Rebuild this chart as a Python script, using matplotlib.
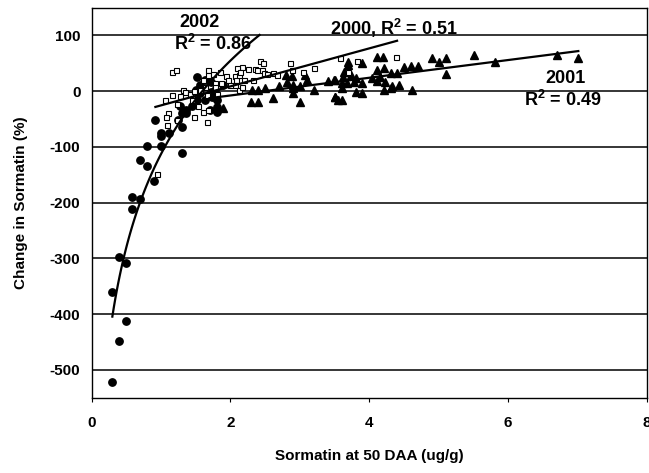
import matplotlib.pyplot as plt
import numpy as np

plt.rcParams['font.family'] = ['Liberation Sans', 'DejaVu Sans']
plt.rcParams['font.weight'] = 'bold'
plt.rcParams['axes.unicode_minus'] = False
plt.rcParams['mathtext.fontset'] = 'custom'
plt.rcParams['mathtext.bf'] = 'Liberation Sans:bold'
plt.rcParams['mathtext.rm'] = 'Liberation Sans:bold'
plt.rcParams['mathtext.default'] = 'bf'

# 2002 - filled circles
x2002 = [0.30, 0.30, 0.40, 0.40, 0.50, 0.50, 0.59, 0.59, 0.70, 0.70, 0.795, 0.90,
         1.30, 1.00, 0.80, 1.00, 1.00, 1.11, 0.91, 1.24, 1.30, 1.30, 1.36, 1.44,
         1.52, 1.51, 1.56, 1.64, 1.52, 1.72, 1.80, 1.80, 1.70, 1.64, 1.73, 1.80,
         1.72, 1.90, 1.56, 1.36, 1.27, 1.78]
y2002 = [-360, -521, -298, -448, -309, -413, -189, -211, -123, -193, -135, -162,
         -111, -99, -99, -81, -75, -75, -51, -51, -65, -40, -40, -27,
         -16, 3, 11, 20, 26, 17, -28, -37, -34, -16, -10, -15,
         -1, 11, -4, -33, -27, 3]

# 2000 - open squares
x2000 = [1.16, 1.22, 1.06, 1.16, 1.32, 1.34, 1.23, 1.44, 1.53, 1.47, 1.10, 1.07,
         1.08, 1.23, 0.94, 1.66, 1.61, 1.68, 1.68, 1.61, 1.75, 1.85, 1.94, 1.96,
         1.87, 1.78, 2.06, 2.08, 2.12, 2.16, 2.09, 2.14, 2.07, 2.00, 2.13, 2.16,
         2.26, 2.35, 2.43, 2.47, 2.38, 2.46, 2.33, 2.20, 2.48, 2.53, 2.62, 2.67,
         2.86, 2.88, 3.05, 3.21, 1.78, 1.80, 1.63, 1.56, 1.42, 1.27, 1.68, 1.66,
         1.47, 3.58, 3.83, 3.70, 4.38]
y2000 = [35, 38, -16, -7, 3, -1, -23, -15, -27, -46, -40, -46,
         -61, -52, -149, -55, -37, 38, 29, 20, 31, 35, 28, 20,
         14, 14, 28, 20, 29, 44, 41, 35, 11, 11, 2, 8,
         39, 39, 54, 51, 38, 38, 20, 20, 33, 31, 33, 29,
         50, 38, 35, 41, 8, -5, 7, 3, -5, -8, -34, -7,
         1, 59, 55, 34, 62]

# 2001 - filled triangles
x2001 = [1.90, 2.30, 2.40, 2.61, 3.00, 2.31, 2.40, 2.50, 2.70, 2.80, 2.88, 2.90,
         2.90, 2.90, 3.00, 3.08, 3.10, 3.20, 3.41, 3.50, 3.50, 3.55, 2.81, 3.49,
         3.51, 3.60, 3.60, 3.60, 3.63, 3.62, 3.70, 3.70, 3.73, 3.68, 3.78, 3.81,
         3.81, 3.90, 3.90, 3.90, 4.11, 4.20, 4.11, 4.21, 4.04, 4.16, 4.21, 4.32,
         4.31, 4.43, 4.31, 4.40, 4.50, 4.60, 4.70, 4.61, 4.90, 5.01, 5.11, 5.11,
         5.51, 5.81, 6.71, 7.01, 4.23, 4.11]
y2001 = [-31, -19, -19, -13, -19, 3, 3, 5, 9, 29, 27, 11,
         5, -4, 9, 29, 20, 3, 19, 20, -10, -16, 17, 20,
         -10, -16, 5, 15, 35, 26, 53, 47, 29, 14, 17, 23,
         -1, -3, 14, 50, 61, 61, 38, 41, 24, 25, 2, 10,
         5, 11, 32, 33, 44, 46, 46, 3, 59, 53, 59, 31,
         65, 53, 65, 59, 16, 19]

# trendlines: (slope, intercept, x start, x end)
fit2002 = (242.0, -113.0, 0.30, 2.42)   # logarithmic
fit2000 = (34.1, -59.6, 0.92, 4.40)     # linear
fit2001 = (15.9, -39.5, 1.70, 7.01)     # linear

fig = plt.figure(figsize=(6.49, 4.73), dpi=100)
ax = fig.add_axes([0.141, 0.159, 0.856, 0.825])

ax.plot(x2002, y2002, 'o', color='black', markersize=5.3, linestyle='none', zorder=3)
ax.plot(x2001, y2001, '^', color='black', markersize=5.3, linestyle='none', zorder=3)
ax.plot(x2000, y2000, 's', markerfacecolor='white', markeredgecolor='black',
        markeredgewidth=0.8, markersize=3.6, linestyle='none', zorder=4)

a, b, x0, x1 = fit2002
xs = np.linspace(x0, x1, 100)
ax.plot(xs, a * np.log(xs) + b, color='black', lw=1.6, zorder=5)
for a, b, x0, x1 in (fit2000, fit2001):
    xs = np.array([x0, x1])
    ax.plot(xs, a * xs + b, color='black', lw=1.6, zorder=5)

ax.set_xlim(0, 8)
ax.set_ylim(-550, 150)
ax.set_xticks([0, 2, 4, 6, 8])
ax.set_yticks([-500, -400, -300, -200, -100, 0, 100])
ax.yaxis.grid(True, color='black', lw=1.1)
ax.set_axisbelow(True)
ax.tick_params(axis='x', direction='out', length=3, width=0.8, pad=10, labelsize=11)
ax.tick_params(axis='y', length=0, pad=8, labelsize=11)
for s in ax.spines.values():
    s.set_linewidth(1.0)

ax.set_xlabel('Sormatin at 50 DAA (ug/g)', fontsize=11, fontweight='bold', labelpad=14)
ax.set_ylabel('Change in Sormatin (%)', fontsize=11, fontweight='bold', labelpad=16)

kw = dict(fontsize=13, fontweight='bold', ha='center', va='center')
ax.text(1.56, 124, '2002', **kw)
ax.text(1.75, 84, 'R$^2$ = 0.86', **kw)
ax.text(4.35, 112, '2000, R$^2$ = 0.51', **kw)
ax.text(6.82, 23, '2001', **kw)
ax.text(6.79, -16, 'R$^2$ = 0.49', **kw)

fig.savefig('out.png', dpi=100)
